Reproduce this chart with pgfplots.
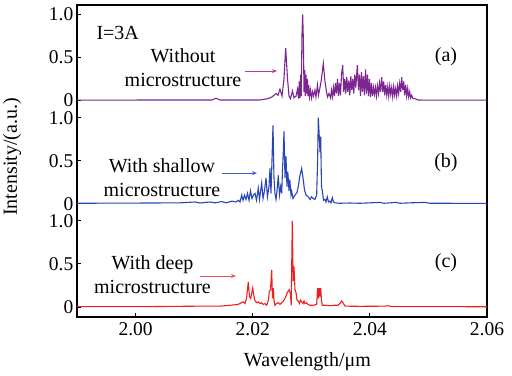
\documentclass[border=0pt]{standalone}
\usepackage{pgfplots}
\pgfplotsset{compat=1.18}
\usepackage{fontspec}
\setmainfont{Liberation Serif}
\usetikzlibrary{arrows.meta}
\definecolor{cpurple}{RGB}{125,38,145}
\definecolor{cpurpA}{RGB}{185,60,150}
\definecolor{cblue}{RGB}{40,70,180}
\definecolor{cblueA}{RGB}{60,95,205}
\definecolor{cred}{RGB}{240,30,30}
\definecolor{credA}{RGB}{240,80,80}
\newcommand{\bigf}{\fontsize{20bp}{24bp}\selectfont}
\newcommand{\tickf}{\fontsize{19.5bp}{22bp}\selectfont}
\begin{document}
\begin{tikzpicture}
\path[fill=white, use as bounding box] (-77bp,-59bp) rectangle (435bp,317bp);
\begin{axis}[
  at={(0,0)}, anchor=south west,
  scale only axis, width=410bp, height=312bp,
  xmin=1.99, xmax=2.06, ymin=-0.116, ymax=3.508,
  axis line style={line width=1.4pt, black},
  tick align=inside, xtick pos=left, ytick pos=left,
  major tick length=4bp,
  tick style={line width=1pt, black},
  /pgf/number format/assume math mode=true,
  xtick={2.00,2.02,2.04,2.06},
  xticklabels={2.00,2.02,2.04,2.06},
  ytick={0,0.5,1,1.2,1.7,2.2,2.4,2.9,3.4},
  yticklabels={0,0.5,1.0,0,0.5,1.0,0,0.5,1.0},
  tick label style={font=\tickf},
  xticklabel style={yshift=-2bp},
  yticklabel style={xshift=-3bp, inner sep=0.5pt, text height=13bp, text depth=0pt},
  label style={font=\bigf},
  xlabel={Wavelength/μm},
  xlabel style={at={(axis description cs:0.562,-0.160)}, anchor=base},
  ylabel={Intensity/(a.u.)},
  ylabel style={at={(axis description cs:-0.1585,0.513)}, anchor=center},
]
% (a) without microstructure
\addplot[cpurple, line width=1.1pt] table[y expr=\thisrowno{1}+2.4] {
1.99000 0.003
2.01100 0.005
2.01305 0.005
2.01373 0.025
2.01441 0.005
2.02124 0.005
2.02261 0.02
2.02329 0.04
2.02398 0.08
2.02432 0.06
2.02466 0.13
2.02500 0.05
2.02534 0.25
2.02563 0.61
2.02594 0.25
2.02620 0.05
2.02645 0.02
2.02679 0.11
2.02705 0.03
2.02739 0.05
2.02765 0.13
2.02782 0.02
2.02795 0.22
2.02807 0.03
2.02819 0.30
2.02829 0.05
2.02841 0.75
2.02853 1.00
2.02865 0.70
2.02876 0.10
2.02888 0.35
2.02898 0.05
2.02910 0.30
2.02922 0.08
2.02934 0.25
2.02944 0.05
2.02956 0.18
2.02970 0.04
2.02987 0.12
2.03004 0.03
2.03021 0.10
2.03038 0.05
2.03063 0.12
2.03080 0.04
2.03106 0.18
2.03123 0.06
2.03149 0.15
2.03174 0.25
2.03205 0.43
2.03234 0.22
2.03260 0.10
2.03277 0.04
2.03302 0.08
2.03328 0.03
2.03345 0.12
2.03362 0.04
2.03379 0.15
2.03396 0.05
2.03413 0.20
2.03430 0.08
2.03448 0.25
2.03465 0.05
2.03482 0.20
2.03499 0.06
2.03516 0.30
2.03536 0.41
2.03555 0.10
2.03572 0.25
2.03589 0.08
2.03606 0.27
2.03623 0.10
2.03640 0.23
2.03658 0.06
2.03675 0.28
2.03692 0.12
2.03709 0.25
2.03726 0.08
2.03743 0.30
2.03760 0.15
2.03786 0.41
2.03806 0.12
2.03823 0.30
2.03840 0.05
2.03857 0.33
2.03874 0.10
2.03891 0.28
2.03909 0.06
2.03926 0.36
2.03943 0.08
2.03960 0.30
2.03977 0.05
2.03994 0.25
2.04011 0.04
2.04028 0.20
2.04045 0.05
2.04062 0.15
2.04079 0.07
2.04096 0.15
2.04113 0.05
2.04130 0.17
2.04148 0.08
2.04165 0.20
2.04182 0.10
2.04202 0.27
2.04219 0.10
2.04236 0.22
2.04253 0.06
2.04270 0.18
2.04288 0.06
2.04305 0.16
2.04322 0.05
2.04339 0.17
2.04356 0.07
2.04373 0.15
2.04390 0.04
2.04407 0.16
2.04424 0.06
2.04441 0.14
2.04458 0.05
2.04475 0.17
2.04492 0.08
2.04509 0.20
2.04527 0.10
2.04544 0.27
2.04561 0.12
2.04578 0.22
2.04595 0.06
2.04612 0.18
2.04629 0.05
2.04646 0.14
2.04663 0.04
2.04680 0.10
2.04697 0.03
2.04714 0.06
2.04737 0.02
2.04771 0.02
2.04822 0.005
2.04941 0.003
2.06000 0.003
};
% (b) shallow microstructure
\addplot[cblue, line width=1.1pt] table[y expr=\thisrowno{1}+1.2] {
1.99000 0.005
2.00246 0.008
2.00759 0.01
2.01015 0.02
2.01100 0.008
2.01271 0.02
2.01356 0.01
2.01476 0.025
2.01544 0.01
2.01646 0.03
2.01715 0.02
2.01754 0.04
2.01783 0.02
2.01812 0.10
2.01834 0.04
2.01860 0.10
2.01885 0.05
2.01911 0.12
2.01937 0.04
2.01962 0.15
2.01988 0.06
2.02013 0.10
2.02039 0.12
2.02065 0.04
2.02095 0.18
2.02116 0.05
2.02153 0.24
2.02176 0.06
2.02201 0.15
2.02227 0.30
2.02252 0.08
2.02278 0.20
2.02295 0.41
2.02312 0.12
2.02329 0.50
2.02346 0.91
2.02363 0.30
2.02380 0.12
2.02398 0.05
2.02415 0.15
2.02437 0.33
2.02457 0.10
2.02478 0.20
2.02495 0.12
2.02509 0.40
2.02522 0.60
2.02534 0.84
2.02551 0.30
2.02568 0.55
2.02585 0.20
2.02599 0.37
2.02620 0.15
2.02633 0.28
2.02654 0.10
2.02666 0.14
2.02688 0.06
2.02722 0.10
2.02756 0.13
2.02778 0.20
2.02807 0.33
2.02836 0.41
2.02859 0.30
2.02884 0.16
2.02910 0.10
2.02949 0.08
2.02978 0.05
2.03004 0.08
2.03034 0.06
2.03063 0.05
2.03092 0.10
2.03108 0.50
2.03120 1.00
2.03135 0.80
2.03149 0.60
2.03161 0.78
2.03174 0.20
2.03188 0.15
2.03209 0.04
2.03234 0.05
2.03251 0.02
2.03273 0.08
2.03294 0.02
2.03319 0.03
2.03337 0.01
2.03359 0.07
2.03379 0.02
2.03405 0.01
2.03490 0.005
2.03661 0.008
2.03832 0.005
2.04173 0.015
2.04241 0.005
2.04446 0.015
2.04515 0.005
2.04685 0.01
2.04941 0.015
2.05027 0.005
2.05283 0.005
2.06000 0.003
};
% (c) deep microstructure
\addplot[cred, line width=1.1pt] table[y expr=\thisrowno{1}] {
1.99000 0.005
2.00246 0.005
2.01100 0.01
2.01441 0.01
2.01612 0.02
2.01749 0.03
2.01839 0.06
2.01868 0.04
2.01894 0.10
2.01925 0.29
2.01945 0.12
2.01966 0.10
2.02000 0.22
2.02022 0.12
2.02039 0.07
2.02073 0.05
2.02095 0.06
2.02124 0.04
2.02153 0.05
2.02181 0.03
2.02210 0.04
2.02239 0.02
2.02269 0.08
2.02283 0.18
2.02304 0.20
2.02324 0.43
2.02338 0.10
2.02351 0.22
2.02363 0.08
2.02380 0.02
2.02406 0.04
2.02437 0.05
2.02466 0.03
2.02495 0.05
2.02522 0.07
2.02551 0.10
2.02580 0.15
2.02602 0.18
2.02625 0.20
2.02645 0.15
2.02657 0.02
2.02676 1.00
2.02691 0.30
2.02705 0.47
2.02722 0.20
2.02739 0.17
2.02756 0.08
2.02778 0.07
2.02799 0.04
2.02816 0.08
2.02836 0.06
2.02859 0.04
2.02876 0.07
2.02893 0.04
2.02918 0.05
2.02944 0.03
2.02978 0.02
2.03029 0.02
2.03092 0.03
2.03109 0.22
2.03123 0.10
2.03137 0.22
2.03149 0.12
2.03161 0.22
2.03174 0.08
2.03188 0.02
2.03251 0.02
2.03319 0.015
2.03388 0.02
2.03456 0.02
2.03490 0.04
2.03519 0.07
2.03541 0.05
2.03576 0.01
2.03832 0.008
2.04259 0.01
2.04310 0.015
2.04378 0.005
2.04856 0.005
2.06000 0.003
};
% annotations
\node[anchor=west, font=\bigf] at (axis cs:1.99273,3.183) {I=3A};
\node[align=center, font=\bigf, inner sep=0pt] at (axis cs:2.00810,2.776) {Without\\microstructure};
\draw[cpurpA, line width=0.7pt, -{Stealth[length=5bp,width=4bp]}] (axis cs:2.01868,2.741) -- (axis cs:2.02415,2.741);
\node[font=\bigf] at (axis cs:2.05300,2.903) {(a)};
\node[align=center, font=\bigf, inner sep=0pt] at (axis cs:2.00451,1.508) {With shallow\\microstructure};
\draw[cblueA, line width=0.7pt, -{Stealth[length=5bp,width=4bp]}] (axis cs:2.01476,1.555) -- (axis cs:2.02073,1.555);
\node[font=\bigf] at (axis cs:2.05300,1.671) {(b)};
\node[align=center, font=\bigf, inner sep=0pt] at (axis cs:2.00289,0.380) {With deep\\microstructure};
\draw[credA, line width=0.7pt, -{Stealth[length=5bp,width=4bp]}] (axis cs:2.01100,0.360) -- (axis cs:2.01715,0.360);
\node[font=\bigf] at (axis cs:2.05300,0.520) {(c)};
\end{axis}
\end{tikzpicture}
\end{document}
